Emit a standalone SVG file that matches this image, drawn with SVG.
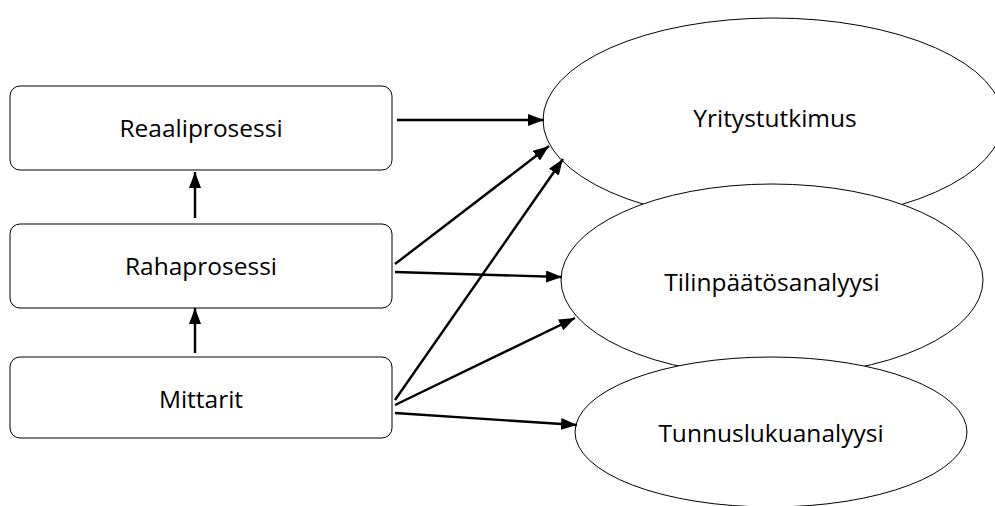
<svg xmlns="http://www.w3.org/2000/svg" width="995" height="506" viewBox="0 0 995 506">
<style>
.box{fill:#fff;stroke:#000;stroke-width:1}
.ell{fill:#fff;stroke:#000;stroke-width:1}
.lbl{font-family:"Open Sans","Liberation Sans",sans-serif;font-size:24.5px;fill:#000;text-anchor:middle}
.con{stroke:#000;stroke-width:2.4;fill:none;marker-end:url(#ah)}
</style>
<defs>
<marker id="ah" viewBox="0 0 16 12" refX="16" refY="6" markerWidth="16" markerHeight="12" markerUnits="userSpaceOnUse" orient="auto">
<path d="M0,0 L16,6 L0,12 Z" fill="#000"/>
</marker>
</defs>
<rect width="995" height="506" fill="#fff"/>
<g id="yritystutkimus"><ellipse class="ell" cx="773" cy="120" rx="230" ry="102"/><text class="lbl" x="775" y="127">Yritystutkimus</text></g>
<g id="tilinpaatosanalyysi"><ellipse class="ell" cx="772" cy="280" rx="211" ry="96"/><text class="lbl" x="772" y="291">Tilinpäätösanalyysi</text></g>
<g id="tunnuslukuanalyysi"><ellipse class="ell" cx="771" cy="432" rx="196" ry="75"/><text class="lbl" x="771" y="442">Tunnuslukuanalyysi</text></g>
<g id="reaaliprosessi"><rect class="box" x="10" y="86" width="382" height="84" rx="10"/><text class="lbl" x="201" y="137">Reaaliprosessi</text></g>
<g id="rahaprosessi"><rect class="box" x="10" y="224" width="382" height="84" rx="10"/><text class="lbl" x="201" y="275">Rahaprosessi</text></g>
<g id="mittarit"><rect class="box" x="10" y="357" width="382" height="81" rx="10"/><text class="lbl" x="201" y="408">Mittarit</text></g>
<g id="connectors">
<line class="con" x1="195" y1="218" x2="195" y2="172"/>
<line class="con" x1="195" y1="353" x2="195" y2="308"/>
<line class="con" x1="397" y1="120" x2="544" y2="120"/>
<line class="con" x1="395" y1="264" x2="549" y2="146"/>
<line class="con" x1="395" y1="400" x2="563" y2="159"/>
<line class="con" x1="395" y1="272" x2="562" y2="277"/>
<line class="con" x1="395" y1="405" x2="575" y2="318"/>
<line class="con" x1="395" y1="413" x2="577" y2="425"/>
</g>
</svg>
